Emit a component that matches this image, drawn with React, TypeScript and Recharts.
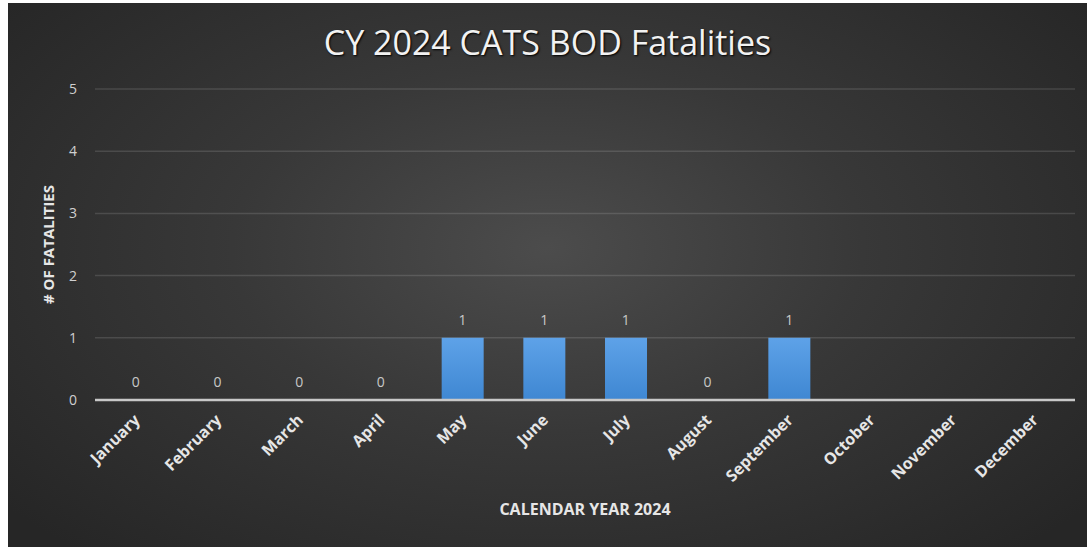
import React from "react";
import { ComposedChart, Bar, Line, XAxis, YAxis, CartesianGrid, LabelList, Label } from "recharts";

const months = [
  "January", "February", "March", "April", "May", "June",
  "July", "August", "September", "October", "November", "December",
];
const fatalities: (number | null)[] = [0, 0, 0, 0, 1, 1, 1, 0, 1, null, null, null];
const yTicks = [0, 1, 2, 3, 4, 5];

const data = months.map((m, i) => ({ month: m, value: fatalities[i] }));

const FONT = "'Open Sans', 'DejaVu Sans', sans-serif";

function MonthTick(props: any) {
  const { x, y, payload } = props;
  return (
    <text
      x={x + 5}
      y={y + 13}
      transform={`rotate(-45, ${x + 5}, ${y + 13})`}
      textAnchor="end"
      fill="#e6e6e6"
      fontSize={16}
      fontWeight={700}
      fontFamily={FONT}
    >
      {payload.value}
    </text>
  );
}

export default function App() {
  return (
    <div
      style={{
        position: "absolute",
        left: 8,
        top: 3,
        width: 1079,
        height: 544,
        background:
          "radial-gradient(ellipse 65% 75% at 50% 45%, #4c4c4c 0%, #383838 45%, #262626 100%)",
        fontFamily: FONT,
      }}
    >
      <div
        style={{
          position: "absolute",
          left: 0,
          top: 17,
          width: 1079,
          textAlign: "center",
          color: "#f2f2f2",
          fontSize: 34,
          lineHeight: "44px",
          textShadow: "1px 1px 2px #000",
        }}
      >
        CY 2024 CATS BOD Fatalities
      </div>
      <ComposedChart
        width={1079}
        height={544}
        data={data}
        margin={{ top: 86, right: 12, left: 27, bottom: 27 }}
        barCategoryGap="24.5%"
      >
        <CartesianGrid
          vertical={false}
          stroke="rgba(255,255,255,0.13)"
          strokeWidth={1.5}
        />
        <XAxis
          dataKey="month"
          interval={0}
          height={120}
          tickLine={false}
          axisLine={{ stroke: "#c8c8c8", strokeWidth: 2.5 }}
          tick={<MonthTick />}
        >
          <Label
            value="CALENDAR YEAR 2024"
            position="insideBottom"
            offset={5}
            fill="#e6e6e6"
            fontSize={16}
            fontWeight={700}
            fontFamily={FONT}
          />
        </XAxis>
        <YAxis
          width={60}
          domain={[0, 5]}
          ticks={yTicks}
          tickLine={false}
          axisLine={false}
          tickMargin={12}
          tick={{ fill: "#d0d0d0", fontSize: 14, fontFamily: FONT }}
        >
          <Label
            value="# OF FATALITIES"
            angle={-90}
            position="insideLeft"
            offset={14}
            style={{ textAnchor: "middle" }}
            fill="#e6e6e6"
            fontSize={15}
            fontWeight={700}
            fontFamily={FONT}
          />
        </YAxis>
        <defs>
          <linearGradient id="barFill" x1="0" y1="0" x2="0" y2="1">
            <stop offset="0%" stopColor="#5ea2e8" />
            <stop offset="100%" stopColor="#3f87d2" />
          </linearGradient>
        </defs>
        <Bar dataKey="value" fill="url(#barFill)" isAnimationActive={false} />
        <Line
          dataKey="value"
          stroke="none"
          dot={false}
          activeDot={false}
          legendType="none"
          isAnimationActive={false}
        >
          <LabelList
            dataKey="value"
            position="top"
            offset={13}
            fill="#c8c8c8"
            fontSize={14}
            fontFamily={FONT}
          />
        </Line>
      </ComposedChart>
    </div>
  );
}
